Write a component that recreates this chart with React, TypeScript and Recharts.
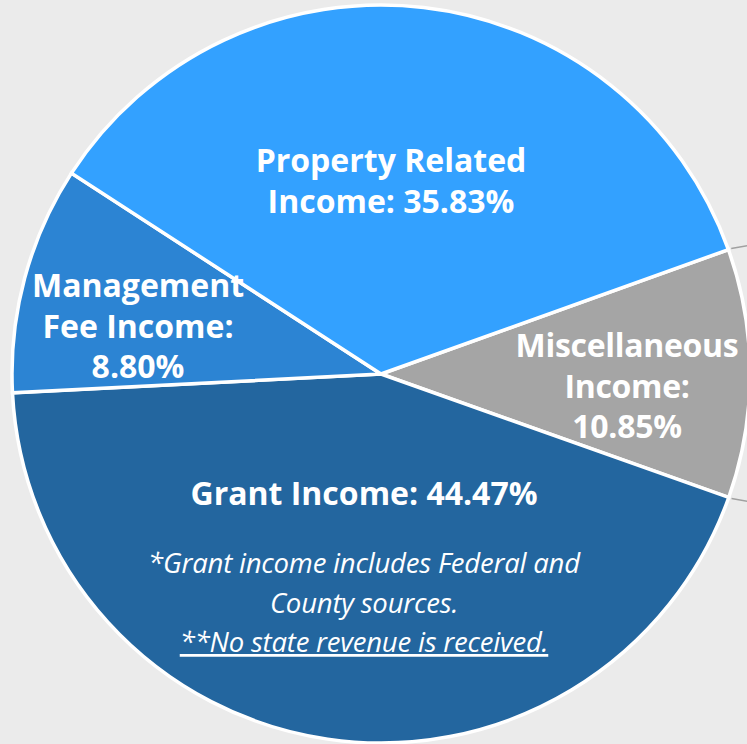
import React from 'react';
import { PieChart, Pie, Cell } from 'recharts';

const CATEGORIES = ['Miscellaneous Income', 'Grant Income', 'Management Fee Income', 'Property Related Income'];
// percentages printed on the labels
const LABEL_PERCENTS = [10.85, 44.47, 8.8, 35.83];
// slice sizes as drawn in the picture (measured from the wedge angles)
const SLICE_VALUES = [10.9, 43.75, 9.97, 35.36];
const COLORS = ['#A5A5A5', '#23669F', '#2C84D3', '#33A1FF'];
const FOOTNOTES = ['*Grant income includes Federal and', 'County sources.', '**No state revenue is received.'];

const pct = (v: number) => `${v.toFixed(2)}%`;
const LABEL_LINES: string[][] = [
  ['Miscellaneous', 'Income:', pct(LABEL_PERCENTS[0])],
  [`Grant Income: ${pct(LABEL_PERCENTS[1])}`],
  ['Management', 'Fee Income:', pct(LABEL_PERCENTS[2])],
  ['Property Related', `Income: ${pct(LABEL_PERCENTS[3])}`],
];

// label anchor offsets relative to pie centre (style only)
const LABEL_OFFSETS = [
  { dx: 246, dy: -17 },
  { dx: -17, dy: 131 },
  { dx: -243, dy: -77 },
  { dx: 10, dy: -202 },
];

const data = CATEGORIES.map((name, i) => ({ name, value: SLICE_VALUES[i] }));

const FONT = '"Open Sans", Lato, sans-serif';
const RAD = Math.PI / 180;
const polar = (cx: number, cy: number, r: number, a: number) => ({
  x: cx + r * Math.cos(-a * RAD),
  y: cy + r * Math.sin(-a * RAD),
});

const renderLabel = (props: any) => {
  const { cx, cy, index, outerRadius, startAngle, endAngle } = props;
  const off = LABEL_OFFSETS[index];
  const x = cx + off.dx;
  const y0 = cy + off.dy;
  const lines = LABEL_LINES[index];
  const extra: React.ReactNode[] = [];
  if (index === 0) {
    [startAngle, endAngle].forEach((a: number, k: number) => {
      const p1 = polar(cx, cy, outerRadius + 3, a);
      const dir = a > 0 ? 10 : -10;
      const p2 = { x: p1.x + 40 * Math.cos(dir * RAD), y: p1.y - 40 * Math.sin(dir * RAD) };
      extra.push(
        <line key={`ll${k}`} x1={p1.x} y1={p1.y} x2={p2.x} y2={p2.y} stroke="#A0A0A0" strokeWidth={1.5} />
      );
    });
  }
  return (
    <g>
      {extra}
      {lines.map((t, i) => (
        <text
          key={i}
          x={x}
          y={y0 + i * 40.5}
          textAnchor="middle"
          fill="#FFFFFF"
          fontFamily={FONT}
          fontWeight={700}
          fontSize={32}
          letterSpacing={index === 0 ? -0.3 : 0}
        >
          {t}
        </text>
      ))}
      {index === 1 &&
        FOOTNOTES.map((t, i) => (
          <text
            key={`f${i}`}
            x={x}
            y={y0 + 68 + i * 39.5}
            textAnchor="middle"
            fill="#FFFFFF"
            fontFamily={FONT}
            fontStyle="italic"
            fontSize={27.5}
            letterSpacing={-0.2}
            textDecoration={i === 2 ? 'underline' : undefined}
          >
            {t}
          </text>
        ))}
    </g>
  );
};

export default function App() {
  return (
    <div style={{ position: 'absolute', left: 0, top: 0, width: 747, height: 744, background: '#EBEBEB', overflow: 'hidden' }}>
      <PieChart width={747} height={744} margin={{ top: 0, right: 0, bottom: 0, left: 0 }}>
        <Pie
          data={data}
          dataKey="value"
          nameKey="name"
          cx={381}
          cy={374}
          outerRadius={369}
          startAngle={19.7}
          endAngle={19.7 - 360}
          stroke="#FFFFFF"
          strokeWidth={3.5}
          label={renderLabel}
          labelLine={false}
          isAnimationActive={false}
        >
          {data.map((d, i) => (
            <Cell key={d.name} fill={COLORS[i]} />
          ))}
        </Pie>
      </PieChart>
    </div>
  );
}
